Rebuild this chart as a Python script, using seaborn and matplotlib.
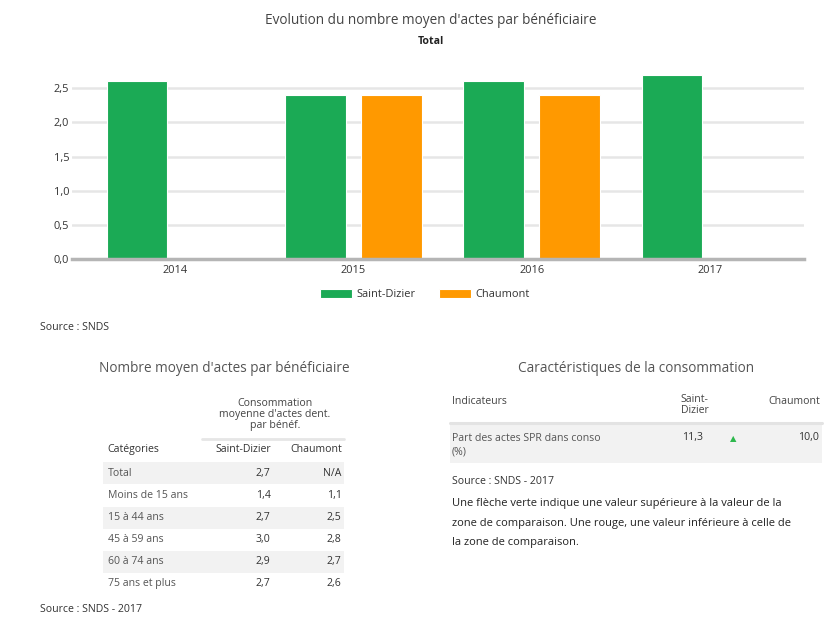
import matplotlib
matplotlib.use("Agg")
import matplotlib.pyplot as plt
from matplotlib.patches import Rectangle
from matplotlib.lines import Line2D
import seaborn as sns
import pandas as pd
import numpy as np

# ---------------- data ----------------
years = ["2014", "2015", "2016", "2017"]
saint_dizier = [2.6, 2.4, 2.6, 2.7]
chaumont = [np.nan, 2.4, 2.4, np.nan]
series_names = ["Saint-Dizier", "Chaumont"]
colors = ["#1BAA55", "#FF9900"]

y_ticks = [0.0, 0.5, 1.0, 1.5, 2.0, 2.5]

tab1_categories = ["Total", "Moins de 15 ans", "15 à 44 ans", "45 à 59 ans",
                   "60 à 74 ans", "75 ans et plus"]
tab1_sd = ["2,7", "1,4", "2,7", "3,0", "2,9", "2,7"]
tab1_ch = ["N/A", "1,1", "2,5", "2,8", "2,7", "2,6"]

tab2_indicators = ["Part des actes SPR dans conso\n(%)"]
tab2_sd = ["11,3"]
tab2_ch = ["10,0"]

# ---------------- setup ----------------
sns.set_theme(style="white")
plt.rcParams["font.family"] = ["Open Sans", "DejaVu Sans"]

W, H = 838, 618
fig = plt.figure(figsize=(W / 100, H / 100), dpi=100)

FS_TITLE = 9.8
FS_TXT = 7.6
FS_TICK = 7.9
FS_PARA = 8.0


def P(x, y):
    return x / W, 1 - y / H


def ftext(x, y, s, **kw):
    kw.setdefault("transform", fig.transFigure)
    kw.setdefault("va", "center")
    kw.setdefault("color", "#444444")
    return fig.text(*P(x, y), s, **kw)


# ---------------- bar chart ----------------
ax_left, ax_right, ax_bottom, ax_top = 72, 804, 259, 67.8
ax = fig.add_axes([ax_left / W, 1 - ax_bottom / H,
                   (ax_right - ax_left) / W, (ax_bottom - ax_top) / H])

df = pd.DataFrame({
    "year": years * 2,
    "commune": [series_names[0]] * len(years) + [series_names[1]] * len(years),
    "value": saint_dizier + chaumont,
}).dropna()

sns.barplot(data=df, x="year", y="value", hue="commune", order=years,
            hue_order=series_names, palette=colors, width=0.85, gap=0.2,
            edgecolor="white", linewidth=0.8, saturation=1, ax=ax, zorder=3)

ax.set_xlim(-0.578, 3.527)
ax.set_ylim(0, 2.8)
ax.set_xlabel("")
ax.set_ylabel("")
ax.set_yticks(y_ticks)
ax.set_yticklabels([f"{v:.1f}".replace(".", ",") for v in y_ticks])
ax.yaxis.grid(True, color="#e6e6e6", linewidth=1.8, zorder=0)
ax.set_axisbelow(True)
for side in ["top", "right", "left"]:
    ax.spines[side].set_visible(False)
ax.spines["bottom"].set_color("#b5b5b5")
ax.spines["bottom"].set_linewidth(2.5)
ax.spines["bottom"].set_zorder(4)
ax.tick_params(axis="y", length=0, pad=2, labelsize=FS_TICK, labelcolor="#333333")
ax.tick_params(axis="x", length=3, width=1, color="#dddddd", pad=1.5,
               labelsize=FS_TICK, labelcolor="#333333", direction="out")
for lbl in ax.get_xticklabels() + ax.get_yticklabels():
    lbl.set_fontweight("medium")

handles, labels = ax.get_legend_handles_labels()
ax.legend(handles, labels, loc="center", bbox_to_anchor=P(425, 294.5),
          bbox_transform=fig.transFigure, ncol=2, frameon=False,
          handlelength=2.9, handleheight=1.0, handletextpad=0.4,
          columnspacing=2.2, fontsize=FS_TICK, labelcolor="#333333")

ftext(431, 20, "Evolution du nombre moyen d'actes par bénéficiaire",
      ha="center", fontsize=FS_TITLE, color="#444444")
ftext(431, 42, "Total", ha="center", fontsize=FS_TXT, fontweight="bold",
      color="#222222")

ftext(40, 328, "Source : SNDS", ha="left", fontsize=FS_TXT, color="#333333")

# ---------------- left table ----------------
ftext(224, 369, "Nombre moyen d'actes par bénéficiaire", ha="center",
      fontsize=FS_TITLE, color="#555555")
ftext(275, 414.5, "Consommation\nmoyenne d'actes dent.\npar bénéf.",
      ha="center", fontsize=FS_TXT, color="#444444", linespacing=1.0)
fig.add_artist(Line2D([201.7 / W, 344 / W], [1 - 438.7 / H] * 2,
                      color="#e6e6e6", linewidth=2, transform=fig.transFigure))
ftext(107.7, 449.5, "Catégories", ha="left", fontsize=FS_TXT, color="#333333")
ftext(270.7, 449.5, "Saint-Dizier", ha="right", fontsize=FS_TXT, color="#333333")
ftext(341.7, 449.5, "Chaumont", ha="right", fontsize=FS_TXT, color="#333333")

row_y = [473.3, 495.5, 517.7, 539.5, 561.5, 583.3]
row_h = 22
for i, (cat, a, b) in enumerate(zip(tab1_categories, tab1_sd, tab1_ch)):
    y = row_y[i]
    if i % 2 == 0:
        fig.add_artist(Rectangle(P(102.7, y + row_h / 2), (344 - 102.7) / W,
                                 row_h / H, transform=fig.transFigure,
                                 facecolor="#f2f2f2", edgecolor="none",
                                 zorder=0))
    ftext(107.7, y, cat, ha="left", fontsize=FS_TXT, color="#555555")
    ftext(270.7, y, a, ha="right", fontsize=FS_TXT, color="#333333")
    ftext(341.7, y, b, ha="right", fontsize=FS_TXT, color="#333333")

ftext(40, 610, "Source : SNDS - 2017", ha="left", fontsize=FS_TXT, color="#333333")

# ---------------- right table ----------------
ftext(636, 368, "Caractéristiques de la consommation", ha="center",
      fontsize=FS_TITLE, color="#555555")
ftext(451.7, 401, "Indicateurs", ha="left", fontsize=FS_TXT, color="#444444")
ftext(708.5, 405, "Saint-\nDizier", ha="right", fontsize=FS_TXT, color="#444444",
      linespacing=1.05)
ftext(820, 401, "Chaumont", ha="right", fontsize=FS_TXT, color="#444444")
fig.add_artist(Line2D([450 / W, 822 / W], [1 - 423 / H] * 2,
                      color="#e3e3e3", linewidth=2.2, transform=fig.transFigure))
fig.add_artist(Rectangle(P(450, 463.3), (822 - 450) / W, (463.3 - 425) / H,
                         transform=fig.transFigure, facecolor="#f2f2f2",
                         edgecolor="none", zorder=0))
ftext(451.7, 445.5, tab2_indicators[0], ha="left", fontsize=FS_TXT,
      color="#555555", linespacing=1.3)
ftext(703.3, 437.7, tab2_sd[0], ha="right", fontsize=FS_TXT, color="#333333")
ftext(733.3, 438.5, "▲", ha="center", fontsize=6, color="#2DB84D",
      family=["DejaVu Sans"])
ftext(819.3, 437.7, tab2_ch[0], ha="right", fontsize=FS_TXT, color="#333333")

ftext(451.7, 481.7, "Source : SNDS - 2017", ha="left", fontsize=FS_TXT,
      color="#333333")
ftext(451.7, 503.3, "Une flèche verte indique une valeur supérieure à la valeur de la",
      ha="left", fontsize=FS_PARA, color="#222222")
ftext(451.7, 523.5, "zone de comparaison. Une rouge, une valeur inférieure à celle de",
      ha="left", fontsize=FS_PARA, color="#222222")
ftext(451.7, 542.7, "la zone de comparaison.", ha="left", fontsize=FS_PARA,
      color="#222222")

fig.savefig("out.png", dpi=100, facecolor="white")
